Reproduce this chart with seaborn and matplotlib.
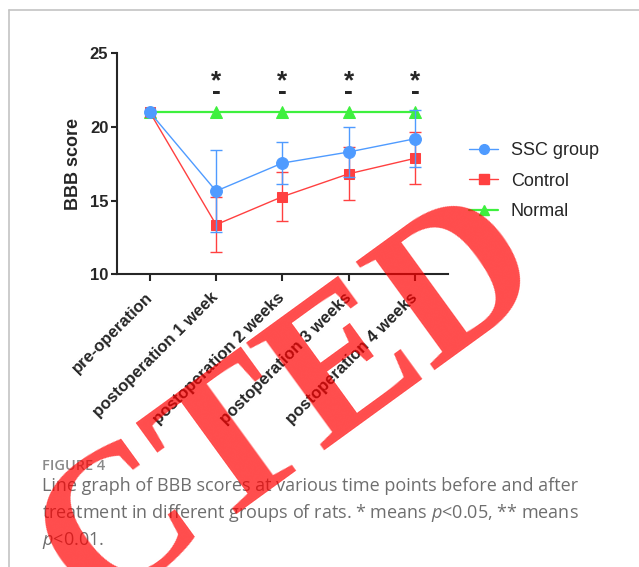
import numpy as np
import pandas as pd
import seaborn as sns
import matplotlib.pyplot as plt
from matplotlib.lines import Line2D

# data
timepoints = ["pre-operation", "postoperation 1 week", "postoperation 2 weeks",
              "postoperation 3 weeks", "postoperation 4 weeks"]
ssc_mean = [21.0, 15.65, 17.55, 18.3, 19.2]
ssc_sd = [0.0, 2.8, 1.42, 1.7, 1.95]
control_mean = [21.0, 13.37, 15.27, 16.82, 17.87]
control_sd = [0.0, 1.85, 1.67, 1.8, 1.77]
normal_mean = [21.0, 21.0, 21.0, 21.0, 21.0]
sig_marks = ["", "*", "*", "*", "*"]

caption_title = "FIGURE 4"
caption_lines = ["Line graph of BBB scores at various time points before and after",
                 "treatment in different groups of rats. * means $p$<0.05, ** means",
                 "$p$<0.01."]

sns.set_style("ticks")
plt.rcParams["font.family"] = ["Liberation Sans", "DejaVu Sans"]
plt.rcParams["mathtext.fontset"] = "custom"
plt.rcParams["mathtext.it"] = "Open Sans:italic"

blue = "#4f9bff"
red = "#ff4040"
green = "#3ef03e"

x = np.arange(len(timepoints))

fig = plt.figure(figsize=(6.39, 5.67), dpi=100)
ax = fig.add_axes([0.1826, 0.5162, 0.5186, 0.3898])

sns.lineplot(x=x, y=normal_mean, ax=ax, color=green, lw=1.6, marker="^",
             ms=8, mec=green, zorder=3)
ax.errorbar(x[1:], control_mean[1:], yerr=control_sd[1:], fmt="none",
            ecolor=red, elinewidth=1.0, capsize=4, capthick=1.0, zorder=4)
sns.lineplot(x=x, y=control_mean, ax=ax, color=red, lw=1.0, marker="s",
             ms=7, mec=red, zorder=4)
ax.errorbar(x[1:], ssc_mean[1:], yerr=ssc_sd[1:], fmt="none",
            ecolor=blue, elinewidth=1.0, capsize=4, capthick=1.0, zorder=5)
sns.lineplot(x=x, y=ssc_mean, ax=ax, color=blue, lw=1.0, marker="o",
             ms=8.5, mec=blue, zorder=5)

for xi, s in zip(x, sig_marks):
    if s:
        ax.text(xi, 23.1, s, ha="center", va="center", fontsize=19,
                fontweight="bold")
        ax.text(xi, 22.35, "-", ha="center", va="center", fontsize=19,
                fontweight="bold")

ax.set_xlim(-0.5, 4.5)
ax.set_ylim(10, 25)
ax.set_yticks([10, 15, 20, 25])
ax.set_xticks(x)
ax.set_xticklabels(timepoints, rotation=45, ha="right", va="center",
                   rotation_mode="anchor", fontsize=12, fontweight="bold")
for lab in ax.get_yticklabels():
    lab.set_fontweight("bold")
    lab.set_fontsize(12)
ax.tick_params(axis="y", length=4.5, width=1.5, pad=1.5)
ax.tick_params(axis="x", length=5, width=1.5, pad=10)
ax.set_ylabel("BBB score", fontsize=13, fontweight="bold", labelpad=6)
sns.despine(ax=ax)
for sp in ["left", "bottom"]:
    ax.spines[sp].set_linewidth(1.5)

handles = [
    Line2D([], [], color=blue, lw=1.0, marker="o", ms=7, mec=blue),
    Line2D([], [], color=red, lw=1.0, marker="s", ms=6.5, mec=red),
    Line2D([], [], color=green, lw=1.6, marker="^", ms=7, mec=green),
]
fig.legend(handles, ["SSC group", "Control", "Normal"], loc="upper left",
           bbox_to_anchor=(0.709, 0.778), frameon=False, fontsize=13,
           handlelength=1.6, handletextpad=0.7, labelspacing=0.75)

# caption
fig.text(42 / 639, 1 - 470 / 567, caption_title, fontsize=10.5, color="#8a8a8a",
         fontweight="semibold", family=["Open Sans", "DejaVu Sans"])
for i, line in enumerate(caption_lines):
    fig.text(42 / 639, 1 - (491 + 27 * i) / 567, line, fontsize=13,
             color="#6e6e6e", family=["Open Sans", "DejaVu Sans"])

# page border
fig.add_artist(Line2D([9 / 639, 9 / 639], [0, 1 - 10 / 567], color="#c4c4c4",
                      lw=1.2, transform=fig.transFigure))
fig.add_artist(Line2D([9 / 639, 1], [1 - 10 / 567, 1 - 10 / 567],
                      color="#c4c4c4", lw=1.2, transform=fig.transFigure))

# retraction stamp
fig.text(551 / 639, 1 - 283 / 567, "RETRACTED", fontsize=147,
         fontweight="bold", family=["Liberation Serif"], color="red",
         alpha=0.7, rotation=36, rotation_mode="anchor", ha="right",
         va="baseline", zorder=10)

fig.savefig("out.png", dpi=100)
